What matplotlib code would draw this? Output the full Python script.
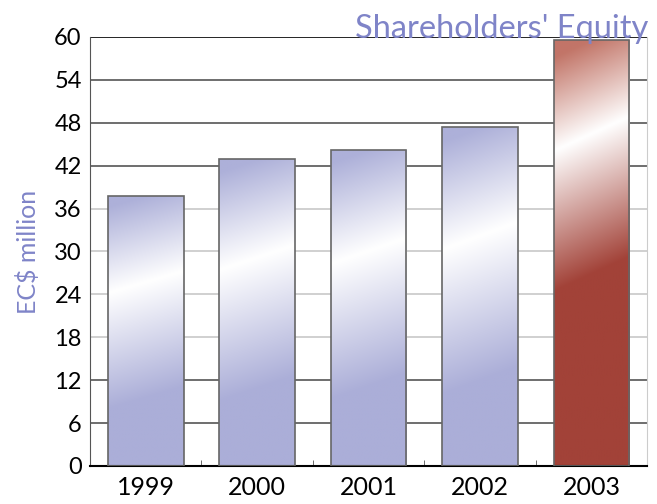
import matplotlib
matplotlib.use("Agg")
import matplotlib.pyplot as plt
import matplotlib.colors as mcolors
import numpy as np

years = ["1999", "2000", "2001", "2002", "2003"]
equity = [37.8, 42.9, 44.2, 47.4, 59.6]
yticks = [0, 6, 12, 18, 24, 30, 36, 42, 48, 54, 60]

plt.rcParams["font.family"] = ["Lato", "DejaVu Sans"]

LAV = "#ABAED8"
RED = "#A24238"
TITLE_C = "#7F84C8"


def gradient_img(base, top, s0, s1, tilt=0.08, n=200, m=40):
    # vertical gradient in bar coords, tilted a little so the highlight runs diagonally
    v = np.linspace(1, 0, n)[:, None]
    u = np.linspace(0, 1, m)[None, :]
    t = v - tilt * (u - 0.5)
    cb = np.array(mcolors.to_rgb(base))
    ct = np.array(mcolors.to_rgb(top))
    w = np.ones(3)
    lo = np.clip((t - s0) / (s1 - s0), 0, 1)[..., None]
    hi = np.clip((t - s1) / (1 - s1), 0, 1)[..., None]
    below = (t <= s1)[..., None]
    return np.where(below, cb + (w - cb) * lo, w + (ct - w) * hi)


fig = plt.figure(figsize=(6.57, 5.04), dpi=100)
ax = fig.add_axes([0.137, 0.0754, 0.848, 0.8512])

x = np.arange(len(years))
width = 0.68
bars = ax.bar(x, equity, width=width, color="none", edgecolor="#666666", linewidth=1.2, zorder=3)

for i, b in enumerate(bars):
    if i == len(bars) - 1:
        img = gradient_img(RED, "#C27568", 0.45, 0.78)
    else:
        img = gradient_img(LAV, "#ADB0D9", 0.25, 0.68)
    x0 = b.get_x()
    im = ax.imshow(img, extent=(x0, x0 + b.get_width(), 0, b.get_height()),
                   aspect="auto", zorder=2, interpolation="bilinear")
    im.set_clip_path(b)

# horizontal grid lines
for yv in yticks[1:]:
    c = "#C8C8C8" if 18 <= yv <= 36 else "#555555"
    if yv == 60:
        c = "black"
    ax.axhline(yv, color=c, linewidth=1.2, zorder=1)

ax.set_xlim(-0.5, len(years) - 0.5)
ax.set_ylim(0, 60)
ax.set_yticks(yticks)
ax.set_yticklabels([str(v) for v in yticks], fontsize=17)
ax.set_xticks(x)
ax.set_xticklabels(years, fontsize=18)
ax.set_xticks(np.arange(len(years) - 1) + 0.5, minor=True)
ax.tick_params(axis="x", which="major", length=0, pad=7)
ax.tick_params(axis="x", which="minor", direction="in", length=4, color="#555555")
ax.tick_params(axis="y", length=0, pad=6)

ax.spines["top"].set_visible(False)
ax.spines["right"].set_color("#CCCCCC")
ax.spines["left"].set_color("#555555")
ax.spines["bottom"].set_color("black")
ax.spines["bottom"].set_linewidth(1.5)

ax.set_ylabel("EC$ million", fontsize=18, color=TITLE_C, labelpad=10)
fig.text(0.987, 0.925, "Shareholders' Equity", fontsize=23.5, color=TITLE_C,
         ha="right", va="baseline")

fig.savefig("out.png", dpi=100)
